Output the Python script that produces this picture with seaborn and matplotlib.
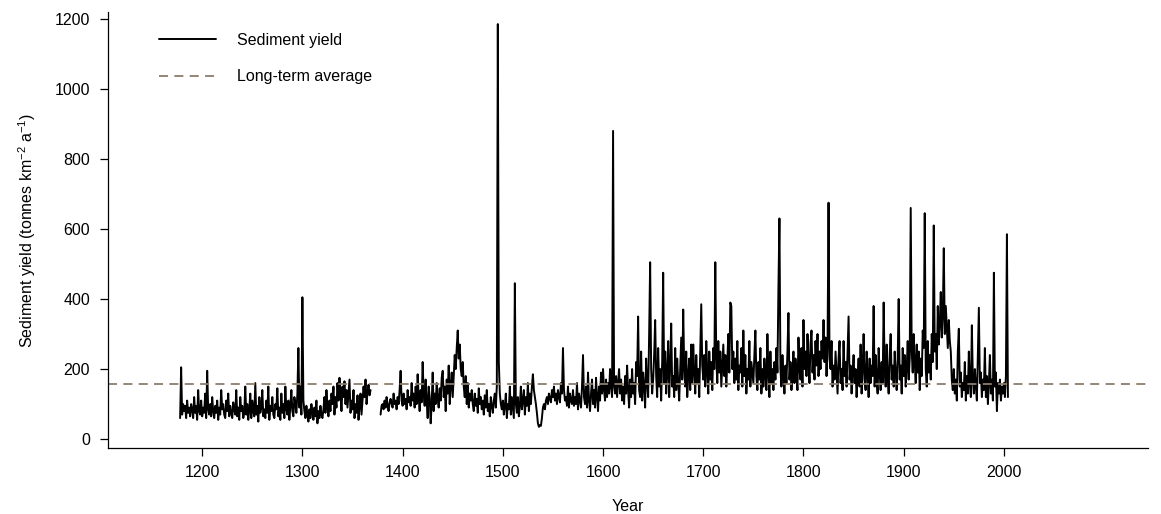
import numpy as np
import matplotlib
matplotlib.use("Agg")
import matplotlib.pyplot as plt
import pandas as pd
import seaborn as sns

nan = np.nan

# annual sediment yield (tonnes km-2 a-1), one list per century
y_1100s = [60, 205,
           70, 100, 80, 95, 60, 110, 75, 90, 65, 100,
           85, 60, 120, 75, 95, 55, 140, 80, 70, 110]
y_1200s = [65, 90, 75, 130, 60, 195, 85, 70, 100, 65,
           120, 80, 60, 95, 75, 110, 55, 90, 70, 140,
           85, 100, 70, 60, 110, 80, 130, 65, 95, 75,
           60, 105, 85, 70, 140, 65, 90, 55, 120, 80,
           95, 60, 75, 150, 70, 100, 55, 85, 130, 60,
           110, 80, 65, 160, 70, 95, 50, 120, 75, 90,
           140, 65, 85, 60, 110, 75, 150, 55, 95, 80,
           120, 70, 60, 100, 85, 145, 65, 90, 55, 130,
           75, 100, 60, 150, 85, 70, 110, 55, 95, 140,
           80, 65, 120, 100, 75, 130, 260, 90, 150, 70]
y_1300s = [405, 110, 80, 60, 95, 70, 50, 85, 60, 100,
           75, 55, 90, 65, 110, 45, 80, 60, 95, 70,
           60, 85, 120, 75, 140, 95, 65, 110, 80, 130,
           100, 150, 70, 120, 90, 160, 110, 175, 130, 80,
           150, 120, 165, 100, 140, 90, 130, 170, 75, 110,
           85, 140, 60, 100, 75, 125, 55, 95, 130, 70,
           110, 150, 120, 170, 100, 135, 155, 125, 140, nan,
           nan, nan, nan, nan, nan, nan, nan, nan, 70, 95,
           100, 85, 110, 90, 120, 95, 80, 105, 115, 100,
           90, 130, 100, 110, 85, 120, 100, 140, 195, 110]
y_1400s = [95, 130, 100, 115, 85, 140, 105, 120, 95, 160,
           110, 130, 90, 150, 100, 185, 120, 80, 140, 105,
           220, 130, 95, 170, 110, 60, 150, 120, 45, 100,
           190, 80, 130, 100, 160, 115, 90, 145, 110, 175,
           195, 120, 150, 80, 170, 130, 210, 100, 155, 190,
           120, 180, 240, 200, 260, 310, 230, 270, 200, 180,
           220, 150, 120, 180, 100, 160, 90, 130, 110, 140,
           100, 80, 130, 95, 115, 75, 145, 100, 120, 85,
           110, 70, 125, 90, 140, 80, 100, 65, 120, 95,
           75, 110, 130, 90, 150, 1185, 220, 130, 100, 85]
y_1500s = [110, 70, 95, 130, 60, 100, 85, 150, 70, 120,
           90, 60, 445, 100, 75, 120, 65, 95, 150, 85,
           110, 140, 70, 120, 95, 160, 80, 130, 100, 150,
           185, 140, 120, 100, 75, 45, 35, 40, 38, 60,
           90, 100, 85, 110, 120, 100, 130, 115, 105, 140,
           120, 150, 110, 130, 100, 140, 120, 105, 160, 130,
           260, 140, 110, 120, 95, 150, 90, 130, 110, 100,
           140, 95, 120, 100, 160, 85, 130, 110, 90, 150,
           240, 120, 100, 150, 90, 190, 110, 80, 130, 170,
           100, 140, 90, 175, 120, 80, 150, 110, 190, 130]
y_1600s = [200, 140, 110, 170, 120, 160, 130, 200, 150, 120,
           880, 150, 130, 180, 120, 160, 200, 130, 170, 110,
           150, 100, 180, 130, 210, 140, 90, 170, 120, 200,
           130, 160, 100, 220, 180, 350, 140, 120, 250, 110,
           190, 150, 90, 230, 160, 120, 300, 505, 200, 130,
           170, 240, 340, 180, 120, 260, 150, 200, 110, 220,
           475, 160, 250, 130, 190, 280, 120, 210, 330, 150,
           180, 120, 260, 140, 230, 160, 110, 200, 290, 170,
           370, 200, 150, 250, 120, 180, 230, 140, 270, 160,
           270, 190, 130, 240, 160, 200, 120, 260, 385, 210]
y_1700s = [170, 240, 150, 280, 190, 130, 250, 170, 220, 140,
           260, 200, 505, 230, 160, 280, 190, 250, 150, 210,
           270, 180, 240, 150, 220, 300, 190, 390, 380, 200,
           250, 160, 230, 170, 280, 140, 210, 190, 260, 150,
           310, 180, 240, 130, 200, 170, 280, 150, 220, 190,
           160, 240, 310, 180, 140, 220, 170, 260, 130, 200,
           150, 230, 180, 140, 300, 190, 120, 250, 160, 200,
           140, 220, 170, 260, 190, 430, 630, 200, 150, 240,
           180, 130, 210, 160, 250, 360, 170, 220, 140, 190,
           250, 160, 230, 180, 140, 290, 200, 170, 260, 150]
y_1800s = [340, 200, 250, 180, 300, 220, 160, 270, 310, 190,
           240, 170, 280, 210, 300, 180, 250, 200, 280, 230,
           340, 220, 290, 180, 260, 675, 230, 200, 280, 150,
           210, 170, 250, 190, 130, 230, 280, 160, 200, 140,
           280, 180, 220, 150, 250, 350, 170, 210, 130, 190,
           240, 160, 200, 120, 180, 230, 150, 270, 130, 200,
           300, 170, 140, 250, 190, 120, 230, 160, 210, 180,
           380, 150, 240, 170, 130, 260, 190, 140, 220, 160,
           390, 200, 150, 270, 180, 130, 240, 300, 170, 210,
           150, 250, 190, 140, 230, 400, 170, 210, 130, 260]
y_1900s = [180, 240, 150, 200, 280, 170, 230, 660, 250, 190,
           300, 220, 160, 270, 190, 250, 140, 230, 180, 310,
           260, 645, 200, 150, 280, 190, 240, 170, 300, 220,
           610, 250, 300, 200, 380, 270, 330, 420, 290, 350,
           545, 300, 380, 320, 260, 340, 280, 250, 170, 140,
           200, 130, 170, 110, 250, 315, 150, 190, 120, 160,
           140, 220, 110, 180, 130, 250, 160, 120, 325, 170,
           130, 200, 150, 110, 240, 375, 160, 190, 120, 170,
           140, 260, 120, 180, 100, 160, 240, 130, 170, 110,
           475, 150, 190, 80, 160, 130, 170, 110, 150, 130,
           160, 120, 180, 585, 120]
start_years = [1178, 1200, 1300, 1400, 1500, 1600, 1700, 1800, 1900]
long_term_average = 157

x_ticks = list(range(1200, 2001, 100))
y_ticks = list(range(0, 1201, 200))

sns.set_theme(style="ticks")
plt.rcParams["font.family"] = ["Liberation Sans", "DejaVu Sans"]
plt.rcParams["mathtext.default"] = "regular"
plt.rcParams["text.color"] = "black"
plt.rcParams["axes.labelcolor"] = "black"
plt.rcParams["xtick.color"] = "black"
plt.rcParams["ytick.color"] = "black"

frames = []
for start, values in zip(start_years, [y_1100s, y_1200s, y_1300s, y_1400s, y_1500s,
                                        y_1600s, y_1700s, y_1800s, y_1900s]):
    frames.append(pd.DataFrame({"year": np.arange(start, start + len(values)), "yield": values}))
data = pd.concat(frames, ignore_index=True)
# the record has a gap in the 1370s; keep the two pieces apart
data["segment"] = data["yield"].isna().cumsum()
data = data.dropna()

fig = plt.figure(figsize=(11.61, 5.14), dpi=100)
ax = fig.add_axes([0.093, 0.128, 0.896, 0.849])

for i, (_, seg) in enumerate(data.groupby("segment")):
    sns.lineplot(data=seg, x="year", y="yield", ax=ax, color="black", linewidth=1.4,
                 label="Sediment yield" if i == 0 else None)
ax.axhline(long_term_average, color="#8b7d6b", linestyle=(0, (5, 3.5)), linewidth=1.3,
           label="Long-term average")

ax.set_xlim(1106, 2144)
ax.set_ylim(-26, 1220)
ax.set_xticks(x_ticks)
ax.set_yticks(y_ticks)
ax.tick_params(labelsize=11.5, length=6, width=0.9, color="black", labelcolor="black")
ax.tick_params(axis="y", pad=7)
ax.tick_params(axis="x", pad=6)
ax.set_xlabel("Year", fontsize=11.5, labelpad=14)
ax.set_ylabel("Sediment yield (tonnes km$^{-2}$ a$^{-1}$)", fontsize=11.5, labelpad=12)
sns.despine(ax=ax)
for side in ("left", "bottom"):
    ax.spines[side].set_linewidth(0.9)
    ax.spines[side].set_color("black")

ax.legend(loc="upper left", bbox_to_anchor=(0.035, 0.985), frameon=False, fontsize=11.5,
          handlelength=3.6, handletextpad=1.3, labelspacing=1.35)

fig.savefig("out.png", dpi=100)
